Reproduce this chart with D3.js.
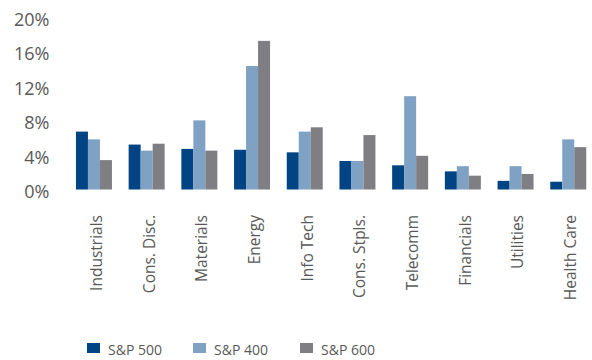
<!DOCTYPE html>
<html>
<head>
<meta charset="utf-8">
<script src="https://cdn.jsdelivr.net/npm/d3@7"></script>
<style>
  body { margin: 0; background: #fff; }
  text { font-family: "Open Sans", "Noto Sans", sans-serif; fill: #595959; }
</style>
</head>
<body>
<svg id="chart" width="592" height="360"></svg>
<script>
var categories = ['Industrials', 'Cons. Disc.', 'Materials', 'Energy', 'Info Tech',
                  'Cons. Stpls.', 'Telecomm', 'Financials', 'Utilities', 'Health Care'];
var seriesNames = ['S&P 500', 'S&P 400', 'S&P 600'];
var sp500 = [6.7, 5.2, 4.7, 4.6, 4.3, 3.3, 2.8, 2.1, 1.0, 0.9];
var sp400 = [5.8, 4.5, 8.0, 14.3, 6.7, 3.3, 10.8, 2.7, 2.7, 5.8];
var sp600 = [3.4, 5.3, 4.5, 17.2, 7.2, 6.3, 3.9, 1.6, 1.8, 4.9];
var yTicks = [0, 4, 8, 12, 16, 20];

var colors = ['#004483', '#7fa2c4', '#7f7e83'];
var series = [sp500, sp400, sp600];

var svg = d3.select('#chart');

var x0 = d3.scaleBand()
    .domain(categories)
    .range([67.6, 594.6])
    .paddingInner(0.317)
    .paddingOuter(0.1585);

var x1 = d3.scaleBand()
    .domain(seriesNames)
    .range([0, x0.bandwidth()]);

var y = d3.scaleLinear()
    .domain([0, 20])
    .range([189.5, 16.7]);

// y axis labels only
var yAxis = svg.append('g')
    .attr('transform', 'translate(52.5,2)')
    .call(d3.axisLeft(y).tickValues(yTicks).tickSize(0).tickPadding(3)
        .tickFormat(d => d + '%'));
yAxis.select('.domain').remove();
yAxis.selectAll('text')
    .attr('dy', '0.36em')
    .style('font-family', '"Open Sans", sans-serif')
    .style('font-size', '18px')
    .attr('fill', '#595959');

// bars
var groups = svg.append('g').selectAll('g')
    .data(categories)
    .join('g')
    .attr('transform', d => 'translate(' + x0(d) + ',0)');

groups.selectAll('rect')
    .data((d, i) => series.map((s, j) => ({name: seriesNames[j], value: s[i], c: colors[j]})))
    .join('rect')
    .attr('x', d => x1(d.name))
    .attr('width', x1.bandwidth())
    .attr('y', d => y(d.value))
    .attr('height', d => y(0) - y(d.value))
    .attr('fill', d => d.c);

// category labels
svg.append('g').selectAll('text')
    .data(categories)
    .join('text')
    .attr('transform', d => 'translate(' + (x0(d) + x0.bandwidth() / 2 + 2.5) + ',215) rotate(-90)')
    .attr('text-anchor', 'end')
    .attr('dy', '0.35em')
    .style('font-size', '15.5px')
    .text(d => d);

// legend
var legendX = [87, 193, 300];
var legend = svg.append('g').selectAll('g')
    .data(seriesNames)
    .join('g')
    .attr('transform', (d, i) => 'translate(' + legendX[i] + ',343)');

legend.append('rect')
    .attr('width', 13)
    .attr('height', 10)
    .attr('fill', (d, i) => colors[i]);

legend.append('text')
    .attr('x', 21)
    .attr('y', 12)
    .style('font-size', '14px')
    .text(d => d);
</script>
</body>
</html>
